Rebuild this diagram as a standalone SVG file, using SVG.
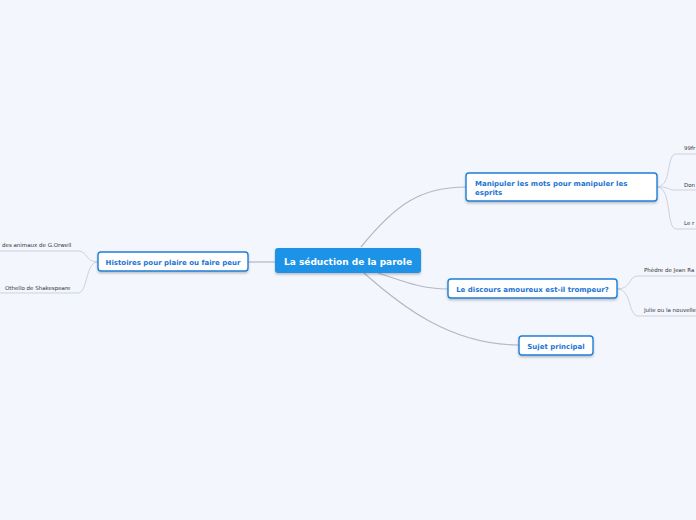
<svg xmlns="http://www.w3.org/2000/svg" width="696" height="520" viewBox="0 0 696 520">
<defs>
<style>
.bg{fill:#f3f6fd}
.c{fill:none;stroke:#b4b8c4;stroke-width:1.2}
.l{fill:none;stroke:#cdd1dc;stroke-width:1}
.n{fill:#ffffff;stroke:#1f7fd8;stroke-width:1.4}
.main{fill:#1a93e6}
.t{font-family:"DejaVu Sans",Verdana,sans-serif;font-weight:bold;fill:#1c74d4;font-size:7px}
.tm{font-family:"DejaVu Sans",Verdana,sans-serif;font-weight:bold;fill:#ffffff;font-size:9px}
.lf{font-family:"DejaVu Sans",Verdana,sans-serif;fill:#333333;font-size:5.5px}
</style>
<filter id="sh" x="-10%" y="-20%" width="120%" height="150%"><feDropShadow dx="0" dy="1.5" stdDeviation="1" flood-color="#000" flood-opacity="0.25"/></filter>
</defs>
<rect class="bg" width="696" height="520"/>
<g id="connectors">
<path class="c" d="M248,262 H275"/>
<path class="c" d="M361,247 C395,205 420,187 466,187"/>
<path class="c" d="M378,273 C400,280 420,289 448,289"/>
<path class="c" d="M364,273 C400,305 450,345 519,345"/>
<path class="l" d="M98,262 C85,262 88,251 78,251 H0"/>
<path class="l" d="M98,262 C85,262 88,293 78,293 H0"/>
<path class="l" d="M657,187 C672,187 666,154 676,154 H696"/>
<path class="l" d="M657,187 C672,187 666,190 676,190 H696"/>
<path class="l" d="M657,187 C672,187 666,229 676,229 H696"/>
<path class="l" d="M617,289 C632,289 628,276 638,276 H696"/>
<path class="l" d="M617,289 C632,289 628,316 638,316 H696"/>
</g>
<g id="central">
<rect class="main" x="275" y="248" width="146" height="25" rx="3" filter="url(#sh)"/>
<text class="tm" x="348" y="265.2" text-anchor="middle">La séduction de la parole</text>
</g>
<g id="histoires">
<rect class="n" x="98" y="252" width="150" height="19" rx="3" filter="url(#sh)"/>
<text class="t" x="173" y="264.5" text-anchor="middle">Histoires pour plaire ou faire peur</text>
</g>
<g id="leaf-orwell"><text class="lf" x="2" y="247">des animaux de G.Orwell</text></g>
<g id="leaf-othello"><text class="lf" x="5" y="290">Othello de Shakespeare</text></g>
<g id="manipuler">
<rect class="n" x="466" y="173" width="191" height="28" rx="3" filter="url(#sh)"/>
<text class="t" x="475" y="185.5">Manipuler les mots pour manipuler les</text>
<text class="t" x="475" y="194.5">esprits</text>
</g>
<g id="leaf-99"><text class="lf" x="684" y="150">99fr</text></g>
<g id="leaf-don"><text class="lf" x="684" y="187">Don</text></g>
<g id="leaf-le"><text class="lf" x="684" y="225">Le r</text></g>
<g id="discours">
<rect class="n" x="448" y="279" width="169" height="19" rx="3" filter="url(#sh)"/>
<text class="t" x="532.5" y="291.5" text-anchor="middle">Le discours amoureux est-il trompeur?</text>
</g>
<g id="leaf-phedre"><text class="lf" x="644" y="272">Phèdre de Jean Ra</text></g>
<g id="leaf-julie"><text class="lf" x="644" y="312">Julie ou la nouvelle</text></g>
<g id="sujet">
<rect class="n" x="519" y="336" width="74" height="19" rx="3" filter="url(#sh)"/>
<text class="t" x="556" y="348.5" text-anchor="middle">Sujet principal</text>
</g>
</svg>
